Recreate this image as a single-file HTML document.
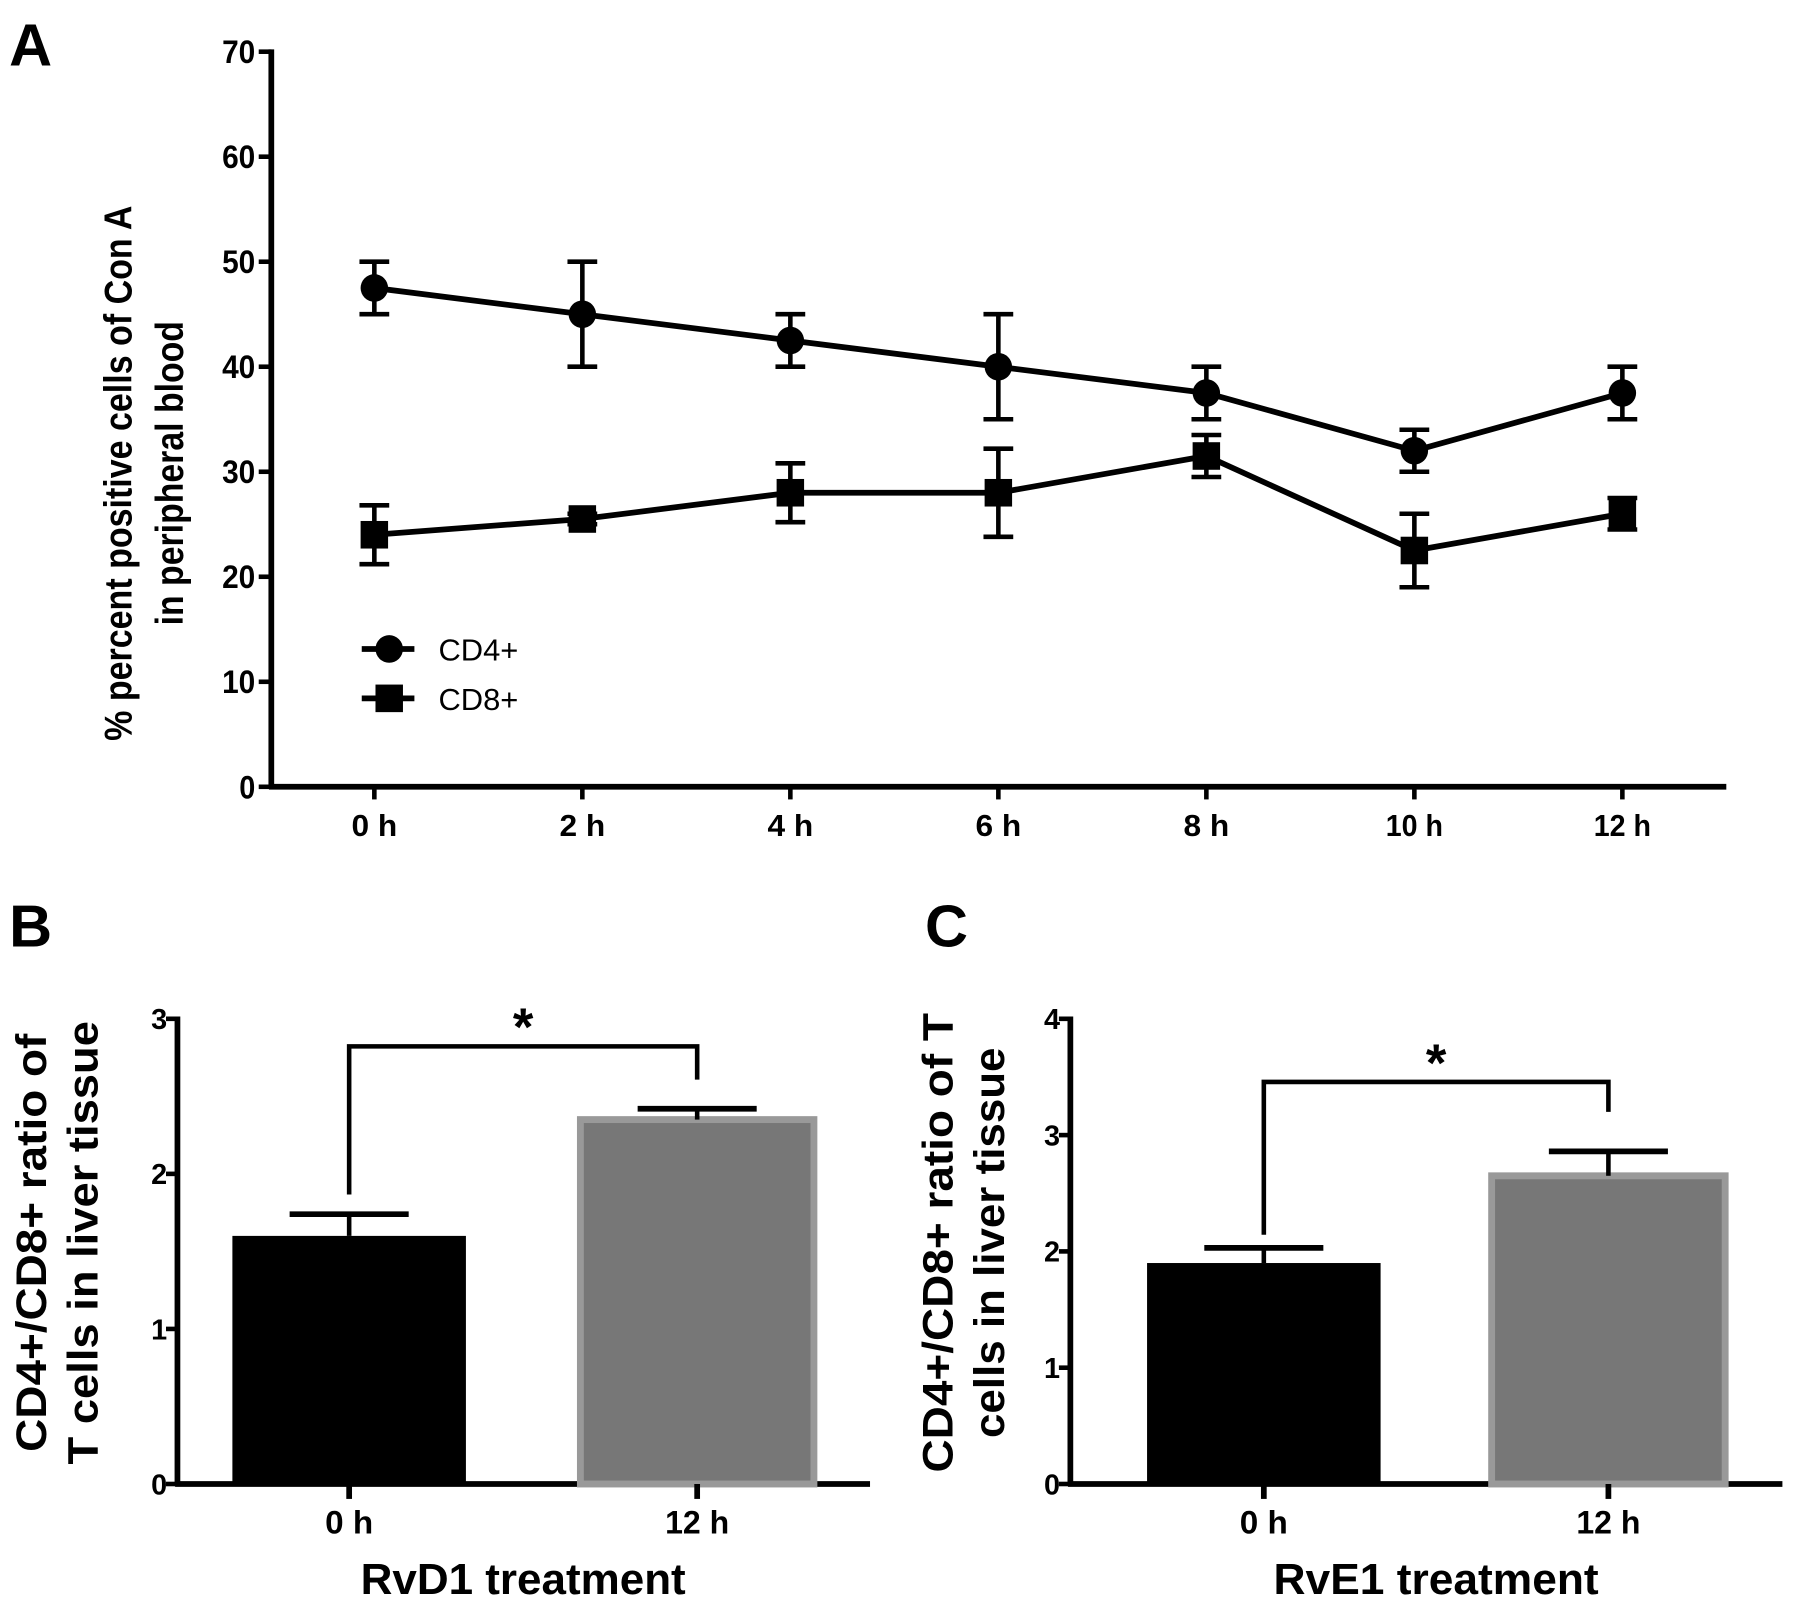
<!DOCTYPE html>
<html><head><meta charset="utf-8"><style>
html,body{margin:0;padding:0;background:#fff;}
svg{display:block;}
text{font-family:"Liberation Sans",Arial,sans-serif;font-weight:bold;fill:#000;}
</style></head><body>
<svg id="fig" width="1795" height="1600" viewBox="0 0 1568 1393" preserveAspectRatio="none" xmlns="http://www.w3.org/2000/svg"></svg>
<script>
// Panel A data
const timeLabels = ["0 h","2 h","4 h","6 h","8 h","10 h","12 h"];
const cd4Mean = [47.5,45,42.5,40,37.5,32,37.5];
const cd4Err  = [2.5,5,2.5,5,2.5,2,2.5];
const cd8Mean = [24,25.5,28,28,31.5,22.5,26];
const cd8Err  = [2.8,0.5,2.8,4.2,2,3.5,1.5];
const aTicks = [0,10,20,30,40,50,60,70];
// Panel B data
const bCats = ["0 h","12 h"];
const bMean = [1.6,2.35];
const bErr  = [0.14,0.07];
const bTicks = [0,1,2,3];
// Panel C data
const cCats = ["0 h","12 h"];
const cMean = [1.9,2.65];
const cErr  = [0.13,0.21];
const cTicks = [0,1,2,3,4];

const NS="http://www.w3.org/2000/svg";
const svg=document.getElementById('fig');
function mk(tag,attrs,parent,txt){const e=document.createElementNS(NS,tag);for(const k in attrs)e.setAttribute(k,attrs[k]);if(txt!==undefined)e.textContent=txt;(parent||svg).appendChild(e);return e;}
function line(x1,y1,x2,y2,w,p){return mk('line',{x1,y1,x2,y2,stroke:'#000','stroke-width':w||4},p);}
function cond(el,len){el.setAttribute('textLength',len);el.setAttribute('lengthAdjust','spacingAndGlyphs');}

// ---------- Panel A ----------
const gA=mk('g',{});


const aY=v=>685-v*(640/70);
const aX=i=>327+i*181.7;
let t=mk('text',{x:8,y:57,'font-size':52},gA,'A');

line(237,43,237,687,5,gA);
line(235,685,1508,685,5,gA);
aTicks.forEach(v=>{line(226,aY(v),237,aY(v),4,gA);
 const tt=mk('text',{x:223,y:aY(v)+10,'font-size':28,'text-anchor':'end'},gA,String(v));
 cond(tt,v===0?14:29);
 });
timeLabels.forEach((l,i)=>{line(aX(i),685,aX(i),696,4,gA);
 const tt=mk('text',{x:aX(i),y:728,'font-size':27,'text-anchor':'middle'},gA,l);
 cond(tt,l.length===3?40:50);
 });
const yt=mk('text',{transform:'translate(115,412) rotate(-90)','font-size':34,'text-anchor':'middle'},gA);

cond(mk('tspan',{x:0,y:0},yt,'% percent positive cells of Con A'),466);
cond(mk('tspan',{x:0,y:45},yt,'in peripheral blood'),265);
function series(mean,err,shape,name){
 const g=mk('g',{},gA);
 
 mk('polyline',{points:mean.map((v,i)=>aX(i)+','+aY(v)).join(' '),fill:'none',stroke:'#000','stroke-width':5},g);
 mean.forEach((v,i)=>{
  const x=aX(i);
  line(x,aY(v+err[i]),x,aY(v-err[i]),4,g);
  line(x-13,aY(v+err[i]),x+13,aY(v+err[i]),4,g);
  line(x-13,aY(v-err[i]),x+13,aY(v-err[i]),4,g);
  let m;
  if(shape==='c')m=mk('circle',{cx:x,cy:aY(v),r:12,fill:'#000'},g);
  else m=mk('rect',{x:x-12,y:aY(v)-12,width:24,height:24,fill:'#000'},g);
  
 });
}
series(cd4Mean,cd4Err,'c','cd4-series');
series(cd8Mean,cd8Err,'s','cd8-series');
const lg=mk('g',{},gA);

line(316,565,362,565,5,lg);mk('circle',{cx:340,cy:565,r:12,fill:'#000'},lg);
mk('text',{x:383,y:575,'font-size':27,style:'font-weight:normal'},lg,'CD4+');
line(316,608,362,608,5,lg);mk('rect',{x:328,y:596,width:24,height:24,fill:'#000'},lg);
mk('text',{x:383,y:618,'font-size':27,style:'font-weight:normal'},lg,'CD8+');

// ---------- Bar panels ----------
function barPanel(o){
 const g=mk('g',{});
 
 const Y=v=>1292-v*(405/o.max);
 let lb=mk('text',{x:o.lx,y:824,'font-size':52},g,o.letter);
 
 line(o.ax,885,o.ax,1294,5,g);
 line(o.ax-2,1292,o.xend,1292,5,g);
 o.ticks.forEach(v=>{line(o.ax-10,Y(v),o.ax,Y(v),4,g);
  const tt=mk('text',{x:o.ax-9,y:Y(v)+9,'font-size':25,'text-anchor':'end'},g,String(v));
  cond(tt,14);
  });
 o.mean.forEach((v,i)=>{
  const cx=o.cx[i];
  const r=mk('rect',{x:cx-102,y:Y(v),width:204,height:1292-Y(v),fill:i?'#777':'#000',stroke:i?'#999':'#000','stroke-width':i?6:0},g);
  
  line(cx,Y(v),cx,Y(v+o.err[i]),4,g);
  line(cx-52,Y(v+o.err[i]),cx+52,Y(v+o.err[i]),5,g);
  line(cx,1292,cx,1305,5,g);
  const tt=mk('text',{x:cx,y:1335,'font-size':28,'text-anchor':'middle'},g,o.cats[i]);
  cond(tt,o.cats[i].length===3?42:56);
  
 });
 const br=mk('polyline',{points:`${o.cx[0]},${o.bl} ${o.cx[0]},${o.by} ${o.cx[1]},${o.by} ${o.cx[1]},${o.br}`,fill:'none',stroke:'#000','stroke-width':4},g);
 
 const st=mk('text',{x:(o.cx[0]+o.cx[1])/2,y:o.by-1,'font-size':46,'text-anchor':'middle'},g,'*');
 
 const xt=mk('text',{x:(o.cx[0]+o.cx[1])/2,y:1388,'font-size':38,'text-anchor':'middle'},g,o.xtitle);
 cond(xt,284);
 
 const yt=mk('text',{transform:`translate(${o.ytx},1082) rotate(-90)`,'font-size':37,'text-anchor':'middle'},g);
 
 cond(mk('tspan',{x:0,y:0},yt,o.yt1),o.l1);
 cond(mk('tspan',{x:0,y:45},yt,o.yt2),o.l2);
}
barPanel({name:'panel-b',letter:'B',lx:8,ax:155,xend:760,max:3,ticks:bTicks,mean:bMean,err:bErr,cats:bCats,cx:[305,609],by:911,bl:1040,br:940,xtitle:'RvD1 treatment',ytx:40,yt1:'CD4+/CD8+ ratio of',yt2:'T cells in liver tissue',l1:364,l2:386});
barPanel({name:'panel-c',letter:'C',lx:808,ax:935,xend:1557,max:4,ticks:cTicks,mean:cMean,err:cErr,cats:cCats,cx:[1104,1405],by:942,bl:1075,br:968,xtitle:'RvE1 treatment',ytx:832,yt1:'CD4+/CD8+ ratio of T',yt2:'cells in liver tissue',l1:400,l2:340});
</script>
</body></html>
